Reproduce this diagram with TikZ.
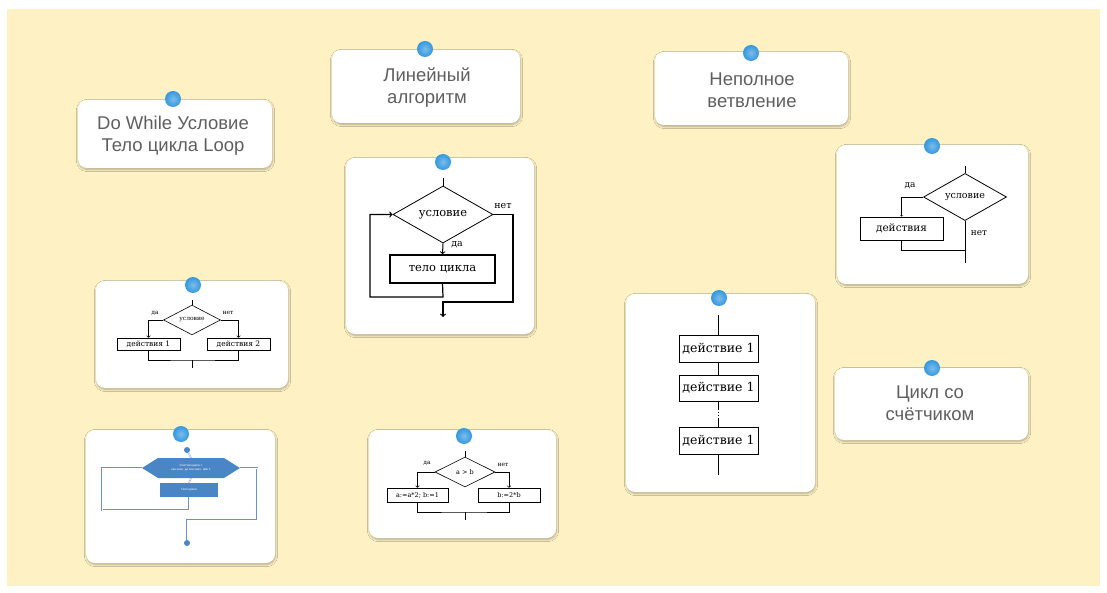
\documentclass[tikz,border=0pt]{standalone}
\usepackage{fontspec}
\setmainfont{Liberation Sans}
\newfontfamily\flowfont{DejaVu Serif}
\usetikzlibrary{shapes.geometric,shapes.symbols,shadows.blur}
\definecolor{bgyellow}{RGB}{254,242,196}
\definecolor{pinblue}{RGB}{52,152,222}
\definecolor{titlegray}{RGB}{95,95,95}
\definecolor{flowblue}{RGB}{74,134,197}
\definecolor{linkblue}{RGB}{100,150,205}

\begin{document}
\begin{tikzpicture}[x=1pt,y=-1pt,
	card_node/.style={rectangle,rounded corners=9pt,fill=white,inner sep=0pt,blur shadow={shadow xshift=0.5pt,shadow yshift=-1.5pt,shadow blur steps=6,shadow opacity=30}},
	pin_node/.style={circle,inner sep=0pt,minimum size=16pt,inner color=pinblue!65!white,outer color=pinblue},
	title_node/.style={align=center,text=titlegray,font=\fontsize{18.5}{22}\selectfont},
	box_node/.style={rectangle,draw,line width=0.8pt,inner sep=0pt},
	cond_node/.style={diamond,draw,line width=0.8pt,inner sep=0pt},
	label_node/.style={inner sep=0pt},
	blue_node/.style={fill=flowblue,text=white,inner sep=0pt,align=center,font=\fontsize{3}{3.6}\selectfont},
	link/.style={draw=linkblue,double=white,double distance=0.6pt,line width=0.4pt}]

	\useasboundingbox (0,0) rectangle (1107,593);
	\fill[bgyellow] (7,9) rectangle (1100,586);

	% cards
	\node[card_node,minimum width=194,minimum height=68] (card1) at (175,134) {};
	\node[card_node,minimum width=188,minimum height=73] (card2) at (426,86.5) {};
	\node[card_node,minimum width=193,minimum height=73] (card3) at (751.5,88.5) {};
	\node[card_node,minimum width=188,minimum height=176] (card4) at (440,246) {};
	\node[card_node,minimum width=191,minimum height=139] (card5) at (932.5,214.5) {};
	\node[card_node,minimum width=192,minimum height=107] (card6) at (192,334.5) {};
	\node[card_node,minimum width=189,minimum height=133] (card7) at (180.5,496.5) {};
	\node[card_node,minimum width=187,minimum height=108] (card8) at (462.5,484) {};
	\node[card_node,minimum width=189,minimum height=198] (card9) at (720.5,393) {};
	\node[card_node,minimum width=193,minimum height=72] (card10) at (931.5,404) {};

	% titles
	\node[title_node] (title1) at (173,136) {Do While Условие\\Тело цикла Loop};
	\node[title_node] (title2) at (427,88) {Линейный\\алгоритм};
	\node[title_node] (title3) at (752,90) {Неполное\\ветвление};
	\node[title_node] (title10) at (930,403) {Цикл со\\счётчиком};

	% while loop
	\node[cond_node,minimum width=100,minimum height=45,font=\flowfont\fontsize{11.5}{11.5}\selectfont] (w_cond) at (443,214.5) {условие};
	\node[box_node,line width=1.4pt,minimum width=105,minimum height=28,font=\flowfont\fontsize{11.5}{11.5}\selectfont] (w_body) at (442.5,269) {тело цикла};
	\coordinate (w_top) at (443,178);
	\coordinate (w_back1) at (443,297);
	\coordinate (w_back2) at (370,297);
	\coordinate (w_exit1) at (513,302);
	\coordinate (w_exit2) at (443,302);
	\coordinate (w_out) at (443,317);
	\draw[line width=1pt] (w_top) -- (w_cond.north);
	\draw[line width=1pt,->] (w_cond.south) -- (w_body.north);
	\draw[line width=1.2pt,->] (w_body.south) -- (w_back1) -- (w_back2) |- (w_cond.west);
	\draw[line width=1.2pt,->] (w_cond.east) -| (w_exit1) -- (w_exit2) -- (w_out);
	\node[label_node,font=\flowfont\fontsize{9.5}{9.5}\selectfont] (w_yes) at (457,245) {да};
	\node[label_node,font=\flowfont\fontsize{9.5}{9.5}\selectfont] (w_no) at (503,206) {нет};

	% incomplete branch
	\node[cond_node,minimum width=83,minimum height=37,font=\flowfont\fontsize{9.5}{9.5}\selectfont] (n_cond) at (965,197) {условие};
	\node[box_node,minimum width=83,minimum height=23,font=\flowfont\fontsize{10.5}{10.5}\selectfont] (n_act) at (901.5,228.5) {действия};
	\coordinate (n_top) at (965,166);
	\coordinate (n_join) at (965,250);
	\coordinate (n_out) at (965,263);
	\draw (n_top) -- (n_cond.north);
	\draw[->] (n_cond.west) -| (n_act.north);
	\draw (n_act.south) |- (n_join);
	\draw (n_cond.south) -- (n_out);
	\node[label_node,font=\flowfont\fontsize{9}{9}\selectfont] (n_yes) at (910,186) {да};
	\node[label_node,font=\flowfont\fontsize{9}{9}\selectfont] (n_no) at (979,233) {нет};

	% full branch
	\node[cond_node,line width=0.6pt,minimum width=57,minimum height=26,font=\flowfont\fontsize{6}{6}\selectfont] (f_cond) at (192,320) {условие};
	\node[box_node,line width=0.6pt,minimum width=63,minimum height=12,font=\flowfont\fontsize{7.5}{7.5}\selectfont] (f_act1) at (148.5,344) {действия 1};
	\node[box_node,line width=0.6pt,minimum width=63,minimum height=12,font=\flowfont\fontsize{7.5}{7.5}\selectfont] (f_act2) at (238.5,344) {действия 2};
	\coordinate (f_top) at (192,300);
	\coordinate (f_join) at (192,360);
	\coordinate (f_out) at (192,368);
	\draw[line width=0.6pt] (f_top) -- (f_cond.north);
	\draw[line width=0.6pt,->] (f_cond.west) -| (f_act1.north);
	\draw[line width=0.6pt,->] (f_cond.east) -| (f_act2.north);
	\draw[line width=0.6pt] (f_act1.south) |- (f_join) -| (f_act2.south);
	\draw[line width=0.6pt] (f_join) -- (f_out);
	\node[label_node,font=\flowfont\fontsize{6}{6}\selectfont] (f_yes) at (155,313) {да};
	\node[label_node,font=\flowfont\fontsize{6}{6}\selectfont] (f_no) at (228,313) {нет};

	% counter loop
	\node[blue_node,signal,signal to=west and east,signal pointer angle=64,minimum width=98,minimum height=20] (b_head) at (191,468) {Счётчик цикла =\\нач.знач. до кон.знач. Шаг 1};
	\node[blue_node,minimum width=58,minimum height=14] (b_body) at (189,490) {Тело цикла};
	\node[circle,fill=flowblue,inner sep=0pt,minimum size=6pt] (b_start) at (187,450) {};
	\node[circle,fill=flowblue,inner sep=0pt,minimum size=6pt] (b_end) at (187,543) {};
	\coordinate (b_back) at (102,510);
	\coordinate (b_exit1) at (257,520);
	\coordinate (b_exit2) at (187,520);
	\path[link] (b_start) -- (b_head.north);
	\path[link] (b_head.south) -- (b_body.north);
	\path[link] (b_body.south) |- (b_back) |- (b_head.west);
	\path[link] (b_head.east) -| (b_exit1) -- (b_exit2) -- (b_end);

	% a > b
	\node[cond_node,line width=0.6pt,minimum width=60,minimum height=30,font=\flowfont\fontsize{6.5}{6.5}\selectfont] (c_cond) at (465,472) {a > b};
	\node[box_node,line width=0.6pt,minimum width=61,minimum height=14,font=\flowfont\fontsize{6.5}{6.5}\selectfont] (c_act1) at (417.5,495) {a:=a*2; b:=1};
	\node[box_node,line width=0.6pt,minimum width=62,minimum height=14,font=\flowfont\fontsize{6.5}{6.5}\selectfont] (c_act2) at (509,495) {b:=2*b};
	\coordinate (c_top) at (465,451);
	\coordinate (c_join) at (465,512);
	\coordinate (c_out) at (465,520);
	\draw[line width=0.6pt] (c_top) -- (c_cond.north);
	\draw[line width=0.6pt,->] (c_cond.west) -| (c_act1.north);
	\draw[line width=0.6pt,->] (c_cond.east) -| (c_act2.north);
	\draw[line width=0.6pt] (c_act1.south) |- (c_join) -| (c_act2.south);
	\draw[line width=0.6pt] (c_join) -- (c_out);
	\node[label_node,font=\flowfont\fontsize{6}{6}\selectfont] (c_yes) at (427,463) {да};
	\node[label_node,font=\flowfont\fontsize{6}{6}\selectfont] (c_no) at (503,465) {нет};

	% linear
	\node[box_node,minimum width=79,minimum height=27,font=\flowfont\fontsize{12.5}{12.5}\selectfont] (l_act1) at (718.5,348.5) {действие 1};
	\node[box_node,minimum width=79,minimum height=26,font=\flowfont\fontsize{12.5}{12.5}\selectfont] (l_act2) at (718.5,388) {действие 1};
	\node[box_node,minimum width=79,minimum height=27,font=\flowfont\fontsize{12.5}{12.5}\selectfont] (l_act3) at (718.5,440.5) {действие 1};
	\coordinate (l_top) at (718.5,315);
	\coordinate (l_dot1) at (718.5,409);
	\coordinate (l_dot2) at (718.5,418);
	\coordinate (l_out) at (718.5,475);
	\draw (l_top) -- (l_act1);
	\draw (l_act1) -- (l_act2);
	\draw (l_act2.south) -- (l_dot1);
	\draw[dotted,line width=1pt] (l_dot1) -- (l_dot2);
	\draw (l_dot2) -- (l_act3.north);
	\draw (l_act3) -- (l_out);

	% pins
	\node[pin_node] (pin1) at (173,99) {};
	\node[pin_node] (pin2) at (425,49) {};
	\node[pin_node] (pin3) at (751,53) {};
	\node[pin_node] (pin4) at (443,162) {};
	\node[pin_node] (pin5) at (932,146) {};
	\node[pin_node] (pin6) at (193,285) {};
	\node[pin_node] (pin7) at (181,434) {};
	\node[pin_node] (pin8) at (464,436) {};
	\node[pin_node] (pin9) at (719,298) {};
	\node[pin_node] (pin10) at (932,368) {};
\end{tikzpicture}
\end{document}
